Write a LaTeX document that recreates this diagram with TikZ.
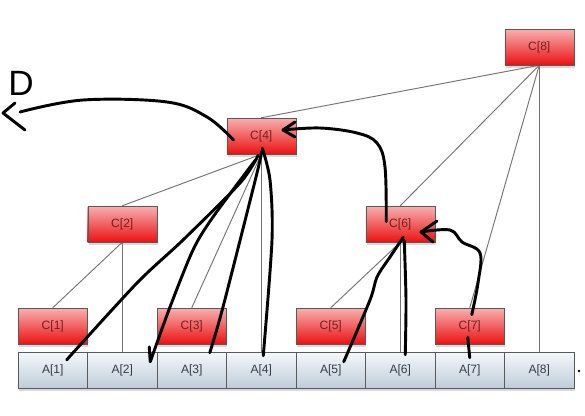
\documentclass[tikz,border=0pt]{standalone}
\usepackage{fontspec}
\setmainfont{Liberation Sans}
\usetikzlibrary{calc,shadows,backgrounds}
\definecolor{treered}{RGB}{234,18,18}
\definecolor{treepink}{RGB}{248,176,176}
\definecolor{cellbot}{RGB}{190,205,218}
\definecolor{celltop}{RGB}{245,248,250}
\definecolor{edgegray}{RGB}{115,115,115}
\definecolor{labred}{RGB}{120,28,28}
\definecolor{labgray}{RGB}{55,60,70}

\begin{document}
\begin{tikzpicture}[x=0.03cm, y=-0.03cm,
  cbox/.style={rectangle, draw=black!65, top color=treepink, bottom color=treered,
    minimum width=2.07cm, minimum height=1.08cm, inner sep=0pt, text=labred,
    font=\fontsize{10.3}{12}\selectfont,
    drop shadow={shadow xshift=1pt, shadow yshift=-2.5pt, opacity=0.3}},
  abox/.style={rectangle, draw=black!65, top color=celltop, bottom color=cellbot,
    minimum width=2.085cm, minimum height=1.08cm, inner sep=0pt, text=labgray,
    font=\fontsize{10.3}{12}\selectfont,
    drop shadow={shadow xshift=1pt, shadow yshift=-2.5pt, opacity=0.3}},
  link/.style={edgegray, line width=0.8pt},
  pen/.style={black, line width=2.5pt, line cap=round, line join=round}]
\useasboundingbox (0,0) rectangle (585,415);

% Array cells
\node[abox] (A1) at (52.75,370) {A[1]};
\node[abox] (A2) at (122.25,370) {A[2]};
\node[abox] (A3) at (191.75,370) {A[3]};
\node[abox] (A4) at (261.25,370) {A[4]};
\node[abox] (A5) at (330.75,370) {A[5]};
\node[abox] (A6) at (400.25,370) {A[6]};
\node[abox] (A7) at (469.75,370) {A[7]};
\node[abox] (A8) at (539.25,370) {A[8]};
\node[circle, fill=black, inner sep=0.8pt] (dot) at (579,371) {};

% Tree cells
\node[cbox] (C1) at (52.75,326) {C[1]};
\node[cbox] (C2) at (122.25,224) {C[2]};
\node[cbox] (C3) at (191.75,326) {C[3]};
\node[cbox] (C4) at (261.25,136) {C[4]};
\node[cbox] (C5) at (330.75,326) {C[5]};
\node[cbox] (C6) at (400.25,224) {C[6]};
\node[cbox] (C7) at (469.75,326) {C[7]};
\node[cbox] (C8) at (539.25,47) {C[8]};

% Tree links
\begin{scope}[on background layer]
\draw[link] (C8.south) -- (C4.north);
\draw[link] (C8.south) -- (C6.north);
\draw[link] (C8.south) -- (C7.north);
\draw[link] (C8.south) -- (A8.north);
\draw[link] (C4.south) -- (C2.north);
\draw[link] (C4.south) -- (C3.north);
\draw[link] (C4.south) -- (A4.north);
\draw[link] (C6.south) -- (C5.north);
\draw[link] (C6.south) -- (A6.north);
\draw[link] (C2.south) -- (C1.north);
\draw[link] (C2.south) -- (A2.north);
\end{scope}

% Hand-drawn marks
\node[font=\fontsize{30}{30}\selectfont] (dlabel) at (21,83) {D};
\coordinate (d0) at ($(C4.west)+(7,4)$);
\coordinate (dend) at (20,112);
\coordinate (dtip) at (3,113);
\draw[pen] plot[smooth, tension=0.6] coordinates {(d0) (207,117) (167,102) (83,100) (dend)};
\draw[pen] ($(dtip)+(12,-10)$) -- (dtip) -- ++(22,17);

\coordinate (u0) at ($(C6.north)+(-14,16)$);
\coordinate (utip) at ($(C4.east)+(-13,-6)$);
\draw[pen] plot[smooth, tension=0.6] coordinates {(u0) (385,167) (377,143) (357,133) (320,128) (utip)};
\draw[pen] ($(utip)+(12,-8)$) -- (utip) -- ++(12,7);

\coordinate (v0) at ($(C7.north)+(2,7)$);
\coordinate (vtip) at ($(C6.east)+(-14,8)$);
\draw[pen] plot[smooth, tension=0.6] coordinates {(v0) (478,283) (480,253) (462,242) (450,230) (vtip)};
\draw[pen] ($(vtip)+(16,-11)$) -- (vtip) -- ++(12,10);
\draw[pen] ($(C7.south)+(-2,-7)$) -- ($(A7.north)+(0,6)$);

\draw[pen] plot[smooth, tension=0.5] coordinates {($(C4.south)+(-3,1)$) (240,183) (183,240) (137,283) ($(A1.north)+(14,8)$)};
\draw[pen] plot[smooth, tension=0.5] coordinates {($(C4.south)+(-6,6)$) (213,217) (193,250) (170,307) ($(A2.north)+(28,10)$)} -- ($(A2.north)+(27,-5)$);
\draw[pen] plot[smooth, tension=0.5] coordinates {($(C4.south)+(0,-2)$) (257,173) (223,307) ($(A3.north)+(18,1)$)};
\draw[pen] plot[smooth, tension=0.5] coordinates {($(C4.south)+(1,-6)$) (270,180) (272,240) ($(A4.north)+(2,4)$)};

\draw[pen] plot[smooth, tension=0.5] coordinates {($(C6.south)+(3,-5)$) (390,257) (377,277) (370,300) ($(A5.north)+(13,10)$)};
\draw[pen] plot[smooth, tension=0.5] coordinates {($(C6.south)+(4,-2)$) (406,300) ($(A6.north)+(5,3)$)};
\end{tikzpicture}
\end{document}
